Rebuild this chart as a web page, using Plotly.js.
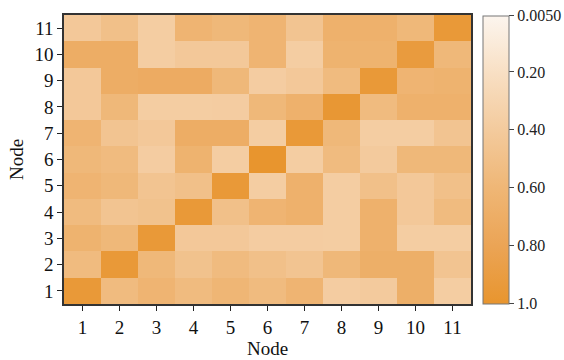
<!DOCTYPE html>
<html><head><meta charset="utf-8">
<script src="https://cdn.plot.ly/plotly-3.0.1.min.js"></script>
<style>html,body{margin:0;padding:0;background:#fff}#c{width:564px;height:360px}</style>
</head><body><div id="c"></div>
<script>
const nodes = [1,2,3,4,5,6,7,8,9,10,11];
// rows: node 1 (bottom) .. node 11 (top); columns: node 1..11
const row1  = [0.95,0.55,0.62,0.55,0.60,0.55,0.62,0.38,0.40,0.68,0.37];
const row2  = [0.55,0.95,0.58,0.48,0.55,0.50,0.46,0.58,0.68,0.68,0.46];
const row3  = [0.64,0.58,0.95,0.42,0.42,0.38,0.38,0.37,0.66,0.37,0.37];
const row4  = [0.55,0.46,0.48,0.95,0.50,0.62,0.66,0.37,0.66,0.42,0.55];
const row5  = [0.62,0.58,0.46,0.50,0.95,0.37,0.66,0.37,0.50,0.42,0.50];
const row6  = [0.58,0.55,0.38,0.64,0.37,1.00,0.37,0.55,0.40,0.58,0.58];
const row7  = [0.62,0.46,0.42,0.70,0.70,0.37,0.95,0.58,0.37,0.37,0.46];
const row8  = [0.42,0.58,0.37,0.37,0.38,0.58,0.66,0.97,0.55,0.66,0.66];
const row9  = [0.42,0.70,0.72,0.72,0.58,0.38,0.42,0.55,0.95,0.62,0.64];
const row10 = [0.70,0.70,0.37,0.42,0.42,0.62,0.37,0.64,0.64,0.92,0.58];
const row11 = [0.42,0.50,0.37,0.62,0.58,0.62,0.46,0.66,0.66,0.58,0.95];
const cbTickVals = [0.005,0.2,0.4,0.6,0.8,1.0];
const cbTickText = ['0.0050','0.20','0.40','0.60','0.80','1.0'];

const rows = [row1,row2,row3,row4,row5,row6,row7,row8,row9,row10,row11];
// colour bar runs from 0.005 at the top to 1.0 at the bottom, so plot negated values
const zNeg = rows.map(r => r.map(v => -v));

const font = 'Liberation Serif, Times New Roman, serif';
Plotly.newPlot('c', [{
  type: 'heatmap',
  x: nodes, y: nodes, z: zNeg,
  zmin: -1, zmax: -0.005,
  colorscale: [[0,'#e8952e'],[0.2,'#eba455'],[0.4,'#efb675'],[0.6,'#f3ca9c'],[0.8,'#f8dfc3'],[1,'#fcf5ee']],
  xgap: 0, ygap: 0,
  colorbar: {
    x: 1.03, xanchor: 'left', y: 0.5, yanchor: 'middle',
    xpad: 0, ypad: 0,
    len: 0.997, thickness: 26,
    outlinecolor: '#777', outlinewidth: 1,
    tickvals: cbTickVals.map(v => -v), ticktext: cbTickText,
    ticks: 'outside', ticklen: 5, tickcolor: '#444',
    tickfont: {family: font, size: 16, color: '#222'}
  }
}], {
  width: 564, height: 360,
  margin: {l: 64, r: 93, t: 15, b: 56, autoexpand: false},
  paper_bgcolor: '#fff', plot_bgcolor: '#fff',
  font: {family: font, color: '#111'},
  xaxis: {
    tickvals: nodes, ticks: 'outside', ticklen: 5, tickcolor: '#222',
    showline: true, linecolor: '#333', linewidth: 1.5, mirror: true,
    showgrid: false, zeroline: false, range: [0.5, 11.5],
    tickfont: {family: font, size: 19},
    title: {text: 'Node', font: {family: font, size: 19}, standoff: 2}
  },
  yaxis: {
    tickvals: nodes, ticks: 'outside', ticklen: 5, tickcolor: '#222',
    showline: true, linecolor: '#333', linewidth: 1.5, mirror: true,
    showgrid: false, zeroline: false, range: [0.5, 11.5],
    tickfont: {family: font, size: 19},
    title: {text: 'Node', font: {family: font, size: 19}, standoff: 6}
  }
}, {displayModeBar: false});
</script></body></html>
